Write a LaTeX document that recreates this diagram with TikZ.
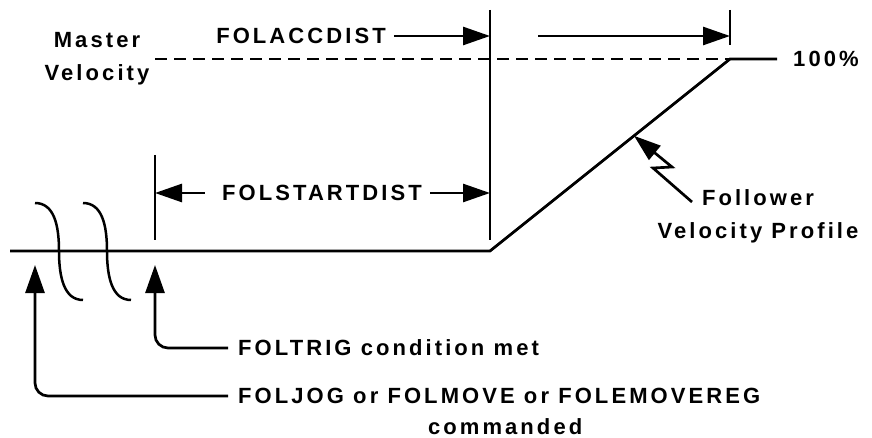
\documentclass[tikz,border=0pt]{standalone}
\usepackage{fontspec}
\newfontfamily\lblfont{Liberation Sans}[LetterSpace=14]
\usetikzlibrary{arrows.meta, positioning, calc}

\begin{document}
\begin{tikzpicture}[x=1pt, y=-1pt,
    every node/.style={font=\lblfont\bfseries\fontsize{22}{33}\selectfont, inner sep=0pt},
    profile/.style={line width=2.8pt},
    marker/.style={line width=2.7pt},
    refline/.style={line width=1.6pt, dash pattern=on 12pt off 7pt},
    breakmark/.style={line width=2.5pt},
    dimarrow/.style={line width=2.7pt, -{Triangle[length=27pt, width=18pt]}},
    callout/.style={line width=2.7pt, rounded corners=13pt, -{Triangle[length=28pt, width=19pt]}}
]
    \useasboundingbox (0,0) rectangle (872,438);

    % Follower velocity profile
    \coordinate (p0) at (10,251);
    \coordinate (p1) at (490,251);
    \coordinate (p2) at (730,59);
    \coordinate (p3) at (777,59);
    \draw[profile] (p0) -- (p1) -- (p2) -- (p3);

    % Master velocity level
    \coordinate (mvstart) at (155,59);
    \draw[refline] (mvstart) -- (p2);

    % Break marks
    \foreach \dx in {0,48} {
        \draw[breakmark] (35+\dx,203) .. controls (54+\dx,203) and (59+\dx,225) .. (59+\dx,251)
            .. controls (59+\dx,277) and (64+\dx,300) .. (83+\dx,300);
    }

    % Marker lines
    \coordinate (trigtop) at (155,155);
    \coordinate (trigbot) at (155,240);
    \coordinate (acctop) at (490,10);
    \coordinate (accbot) at (490,240);
    \coordinate (endtop) at (730,10);
    \coordinate (endbot) at (730,45);
    \draw[marker] (trigtop) -- (trigbot);
    \draw[marker] (acctop) -- (accbot);
    \draw[marker] (endtop) -- (endbot);

    % Labels
    \node[align=center] (master) at (97,59) {Master\\Velocity};
    \node (accdist) at (301,36) {FOLACCDIST};
    \node (startdist) at (322,193) {FOLSTARTDIST};
    \node[anchor=west] (pct) at (793,59) {100\%};
    \node[align=center] (follower) at (758,216) {Follower\\Velocity Profile};
    \node[anchor=west] (trig) at (238,348) {FOLTRIG condition met};
    \node[anchor=west] (jog) at (238,396) {FOLJOG or FOLMOVE or FOLEMOVEREG};
    \node[below=14pt of jog, xshift=6pt] (cmd) {commanded};

    % Distance arrows
    \coordinate (accstart) at (538,36);
    \draw[dimarrow] ([xshift=8pt]accdist.east) -- (accdist -| acctop);
    \draw[dimarrow] (accstart) -- (accstart -| endtop);
    \draw[dimarrow] ([xshift=-17pt]startdist.west) -- (startdist -| trigtop);
    \draw[dimarrow] ([xshift=8pt]startdist.east) -- (startdist -| acctop);

    % Callouts
    \coordinate (bolt) at (692,202);
    \coordinate (hit) at ($(p1)!0.6!(p2)$);
    \draw[dimarrow] (bolt) -- (653,168) -- (672,167) -- (hit);
    \coordinate (trigtip) at (155,265);
    \coordinate (jogtip) at (35,265);
    \draw[callout] ([xshift=-10pt]trig.west) -| (trigtip);
    \draw[callout] ([xshift=-10pt]jog.west) -| (jogtip);

\end{tikzpicture}
\end{document}
